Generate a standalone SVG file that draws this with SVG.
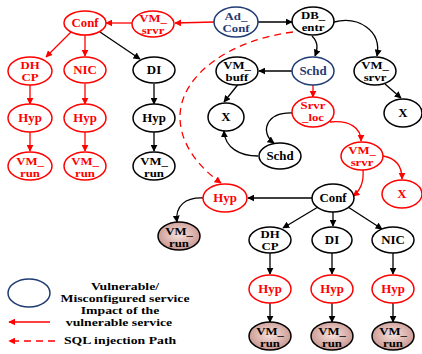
<svg xmlns="http://www.w3.org/2000/svg" width="422" height="354" viewBox="0 0 422 354">
<style>
text{font-family:"Liberation Serif","Times New Roman",serif;font-weight:bold;font-size:11.5px;text-anchor:middle}
text.m{font-size:10.5px}
.k ellipse{fill:#fff;stroke:#000;stroke-width:1.5}
.k text{fill:#000}
.r ellipse{fill:#fff;stroke:#ff0000;stroke-width:1.5}
.r text{fill:#ff0000}
.b ellipse{fill:#fff;stroke:#1f3b73;stroke-width:1.5}
.b text{fill:#1f3b73}
.s ellipse{fill:url(#sh);stroke:#000;stroke-width:1.5}
.s text{fill:#000}
.ck{fill:none;stroke:#000;stroke-width:1.3;marker-end:url(#ak)}
.cr{fill:none;stroke:#ff0000;stroke-width:1.3;marker-end:url(#ar)}
.cd{fill:none;stroke:#ff0000;stroke-width:1.3;stroke-dasharray:7,5;marker-end:url(#ar)}
.lg text{fill:#000;font-size:10.5px}
</style>
<defs>
<marker id="ak" viewBox="0 0 10 10" refX="9" refY="5" markerWidth="7" markerHeight="7" markerUnits="userSpaceOnUse" orient="auto"><path d="M0,0L10,5L0,10z" fill="#000"/></marker>
<marker id="ar" viewBox="0 0 10 10" refX="9" refY="5" markerWidth="7" markerHeight="7" markerUnits="userSpaceOnUse" orient="auto"><path d="M0,0L10,5L0,10z" fill="#ff0000"/></marker>
<radialGradient id="sh" cx="0.5" cy="0.45" r="0.6"><stop offset="0" stop-color="#f8e2de"/><stop offset="1" stop-color="#c58f88"/></radialGradient>
</defs>

<g id="connectors">
<path class="ck" d="M258,22L292,22"/>
<path class="cr" d="M214,22L175,23"/>
<path class="cr" d="M132,23L106,23"/>
<path class="cr" d="M71,32L46,57"/>
<path class="cr" d="M85,35L85,56"/>
<path class="ck" d="M100,32L140,59"/>
<path class="cr" d="M30,85L30,104"/>
<path class="cr" d="M30,132L30,151"/>
<path class="cr" d="M85,84L85,104"/>
<path class="cr" d="M85,132L85,151"/>
<path class="ck" d="M154,84L154,104"/>
<path class="ck" d="M154,132L154,151"/>
<path class="ck" d="M312,36C318,42 318,48 315,56"/>
<path class="ck" d="M334,22C358,16 382,30 377,56"/>
<path class="ck" d="M292,71L259,71"/>
<path class="ck" d="M240,82L224,102"/>
<path class="cr" d="M313,85L313,97"/>
<path class="ck" d="M293,113C265,112 260,133 274,143"/>
<path class="ck" d="M258,156C240,156 225,148 224,131"/>
<path class="ck" d="M385,84L401,98"/>
<path class="cr" d="M330,122C350,120 361,128 361,141"/>
<path class="cr" d="M383,156C395,158 402,166 402,179"/>
<path class="cr" d="M363,170C364,182 361,190 353,196"/>
<path class="ck" d="M312,198L248,198"/>
<path class="ck" d="M204,198C185,197 175,206 177,222"/>
<path class="ck" d="M318,207L283,228"/>
<path class="ck" d="M333,212L333,226"/>
<path class="ck" d="M348,207L382,229"/>
<path class="ck" d="M270,253L270,274"/>
<path class="ck" d="M270,303L270,322"/>
<path class="ck" d="M332,253L332,274"/>
<path class="ck" d="M332,303L332,322"/>
<path class="ck" d="M393,253L393,274"/>
<path class="ck" d="M393,303L393,322"/>
<path class="cd" d="M293,32C230,40 180,75 180,117C180,145 200,168 221,183"/>
</g>

<g id="n_conf" class="r"><ellipse cx="85" cy="23" rx="21" ry="12"/><text transform="translate(85,27) scale(1.12,1)">Conf</text></g>
<g id="n_vmsrvr1" class="r"><ellipse cx="153" cy="24" rx="21" ry="13"/><text class="m" transform="translate(153,22) scale(1.22,1)">VM_</text><text class="m" transform="translate(153,34) scale(1.22,1)">srvr</text></g>
<g id="n_adconf" class="b"><ellipse cx="236" cy="22" rx="22" ry="15"/><text class="m" transform="translate(236,20) scale(1.22,1)">Ad_</text><text class="m" transform="translate(236,32) scale(1.22,1)">Conf</text></g>
<g id="n_dbentr" class="k"><ellipse cx="313" cy="21" rx="21" ry="14"/><text class="m" transform="translate(313,19) scale(1.22,1)">DB_</text><text class="m" transform="translate(313,31) scale(1.22,1)">entr</text></g>
<g id="n_dhcp1" class="r"><ellipse cx="30" cy="71" rx="22" ry="14"/><text class="m" transform="translate(30,68.5) scale(1.22,1)">DH</text><text class="m" transform="translate(30,80.5) scale(1.22,1)">CP</text></g>
<g id="n_nic1" class="r"><ellipse cx="85" cy="70" rx="21" ry="13"/><text transform="translate(85,74) scale(1.12,1)">NIC</text></g>
<g id="n_di1" class="k"><ellipse cx="154" cy="70" rx="21" ry="13"/><text transform="translate(154,74) scale(1.12,1)">DI</text></g>
<g id="n_hyp1" class="r"><ellipse cx="30" cy="118" rx="22" ry="14"/><text transform="translate(30,122) scale(1.12,1)">Hyp</text></g>
<g id="n_hyp2" class="r"><ellipse cx="85" cy="118" rx="21" ry="14"/><text transform="translate(85,122) scale(1.12,1)">Hyp</text></g>
<g id="n_hyp3" class="k"><ellipse cx="154" cy="118" rx="21" ry="14"/><text transform="translate(154,122) scale(1.12,1)">Hyp</text></g>
<g id="n_vmrun1" class="r"><ellipse cx="30" cy="166" rx="22" ry="14"/><text class="m" transform="translate(30,164.5) scale(1.22,1)">VM_</text><text class="m" transform="translate(30,176.5) scale(1.22,1)">run</text></g>
<g id="n_vmrun2" class="r"><ellipse cx="85" cy="166" rx="21" ry="14"/><text class="m" transform="translate(85,164.5) scale(1.22,1)">VM_</text><text class="m" transform="translate(85,176.5) scale(1.22,1)">run</text></g>
<g id="n_vmrun3" class="k"><ellipse cx="154" cy="166" rx="21" ry="14"/><text class="m" transform="translate(154,164.5) scale(1.22,1)">VM_</text><text class="m" transform="translate(154,176.5) scale(1.22,1)">run</text></g>
<g id="n_vmbuff" class="k"><ellipse cx="237" cy="71" rx="21" ry="14"/><text class="m" transform="translate(237,69) scale(1.22,1)">VM_</text><text class="m" transform="translate(237,81) scale(1.22,1)">buff</text></g>
<g id="n_schd1" class="b"><ellipse cx="313" cy="71" rx="21" ry="14"/><text transform="translate(313,75) scale(1.12,1)">Schd</text></g>
<g id="n_vmsrvr2" class="k"><ellipse cx="375" cy="71" rx="21" ry="14"/><text class="m" transform="translate(375,69) scale(1.22,1)">VM_</text><text class="m" transform="translate(375,81) scale(1.22,1)">srvr</text></g>
<g id="n_x1" class="k"><ellipse cx="226" cy="117" rx="18" ry="14"/><text transform="translate(226,121) scale(1.12,1)">X</text></g>
<g id="n_srvrloc" class="r"><ellipse cx="313" cy="112" rx="21" ry="15"/><text class="m" transform="translate(313,109) scale(1.22,1)">Srvr</text><text class="m" transform="translate(313,121) scale(1.22,1)">_loc</text></g>
<g id="n_x2" class="k"><ellipse cx="403" cy="113" rx="19" ry="14"/><text transform="translate(403,117) scale(1.12,1)">X</text></g>
<g id="n_schd2" class="k"><ellipse cx="280" cy="156" rx="21" ry="13"/><text transform="translate(280,160) scale(1.12,1)">Schd</text></g>
<g id="n_vmsrvr3" class="r"><ellipse cx="362" cy="156" rx="21" ry="14"/><text class="m" transform="translate(362,154) scale(1.22,1)">VM_</text><text class="m" transform="translate(362,166) scale(1.22,1)">srvr</text></g>
<g id="n_x3" class="r"><ellipse cx="402" cy="194" rx="20" ry="14"/><text transform="translate(402,198) scale(1.12,1)">X</text></g>
<g id="n_hyp4" class="r"><ellipse cx="225" cy="198" rx="22" ry="14"/><text transform="translate(225,202) scale(1.12,1)">Hyp</text></g>
<g id="n_conf2" class="k"><ellipse cx="333" cy="198" rx="21" ry="14"/><text transform="translate(333,202) scale(1.12,1)">Conf</text></g>
<g id="n_vmrun4" class="s"><ellipse cx="179" cy="236" rx="21" ry="14"/><text class="m" transform="translate(179,234.5) scale(1.22,1)">VM_</text><text class="m" transform="translate(179,246.5) scale(1.22,1)">run</text></g>
<g id="n_dhcp2" class="k"><ellipse cx="270" cy="240" rx="21" ry="13"/><text class="m" transform="translate(270,237.5) scale(1.22,1)">DH</text><text class="m" transform="translate(270,249.5) scale(1.22,1)">CP</text></g>
<g id="n_di2" class="k"><ellipse cx="332" cy="240" rx="20" ry="13"/><text transform="translate(332,244) scale(1.12,1)">DI</text></g>
<g id="n_nic2" class="k"><ellipse cx="393" cy="240" rx="21" ry="13"/><text transform="translate(393,244) scale(1.12,1)">NIC</text></g>
<g id="n_hyp5" class="r"><ellipse cx="270" cy="289" rx="21" ry="14"/><text transform="translate(270,293) scale(1.12,1)">Hyp</text></g>
<g id="n_hyp6" class="r"><ellipse cx="332" cy="289" rx="21" ry="14"/><text transform="translate(332,293) scale(1.12,1)">Hyp</text></g>
<g id="n_hyp7" class="r"><ellipse cx="393" cy="289" rx="21" ry="14"/><text transform="translate(393,293) scale(1.12,1)">Hyp</text></g>
<g id="n_vmrun5" class="s"><ellipse cx="270" cy="336" rx="21" ry="14"/><text class="m" transform="translate(270,334.5) scale(1.22,1)">VM_</text><text class="m" transform="translate(270,346.5) scale(1.22,1)">run</text></g>
<g id="n_vmrun6" class="s"><ellipse cx="332" cy="336" rx="21" ry="14"/><text class="m" transform="translate(332,334.5) scale(1.22,1)">VM_</text><text class="m" transform="translate(332,346.5) scale(1.22,1)">run</text></g>
<g id="n_vmrun7" class="s"><ellipse cx="393" cy="336" rx="21" ry="14"/><text class="m" transform="translate(393,334.5) scale(1.22,1)">VM_</text><text class="m" transform="translate(393,346.5) scale(1.22,1)">run</text></g>

<g id="legend" class="lg">
<ellipse cx="29" cy="293" rx="21" ry="14" fill="#fff" stroke="#1f3b73" stroke-width="1.5"/>
<text transform="translate(125,290) scale(1.31,1)">Vulnerable/</text>
<text transform="translate(125,302) scale(1.31,1)">Misconfigured service</text>
<text transform="translate(120,314) scale(1.31,1)">Impact of the</text>
<text transform="translate(119,326) scale(1.31,1)">vulnerable service</text>
<path class="cr" d="M50,322L9,322"/>
<path class="cd" d="M55,341L9,341"/>
<text transform="translate(120,343.5) scale(1.31,1)">SQL injection Path</text>
</g>
</svg>
